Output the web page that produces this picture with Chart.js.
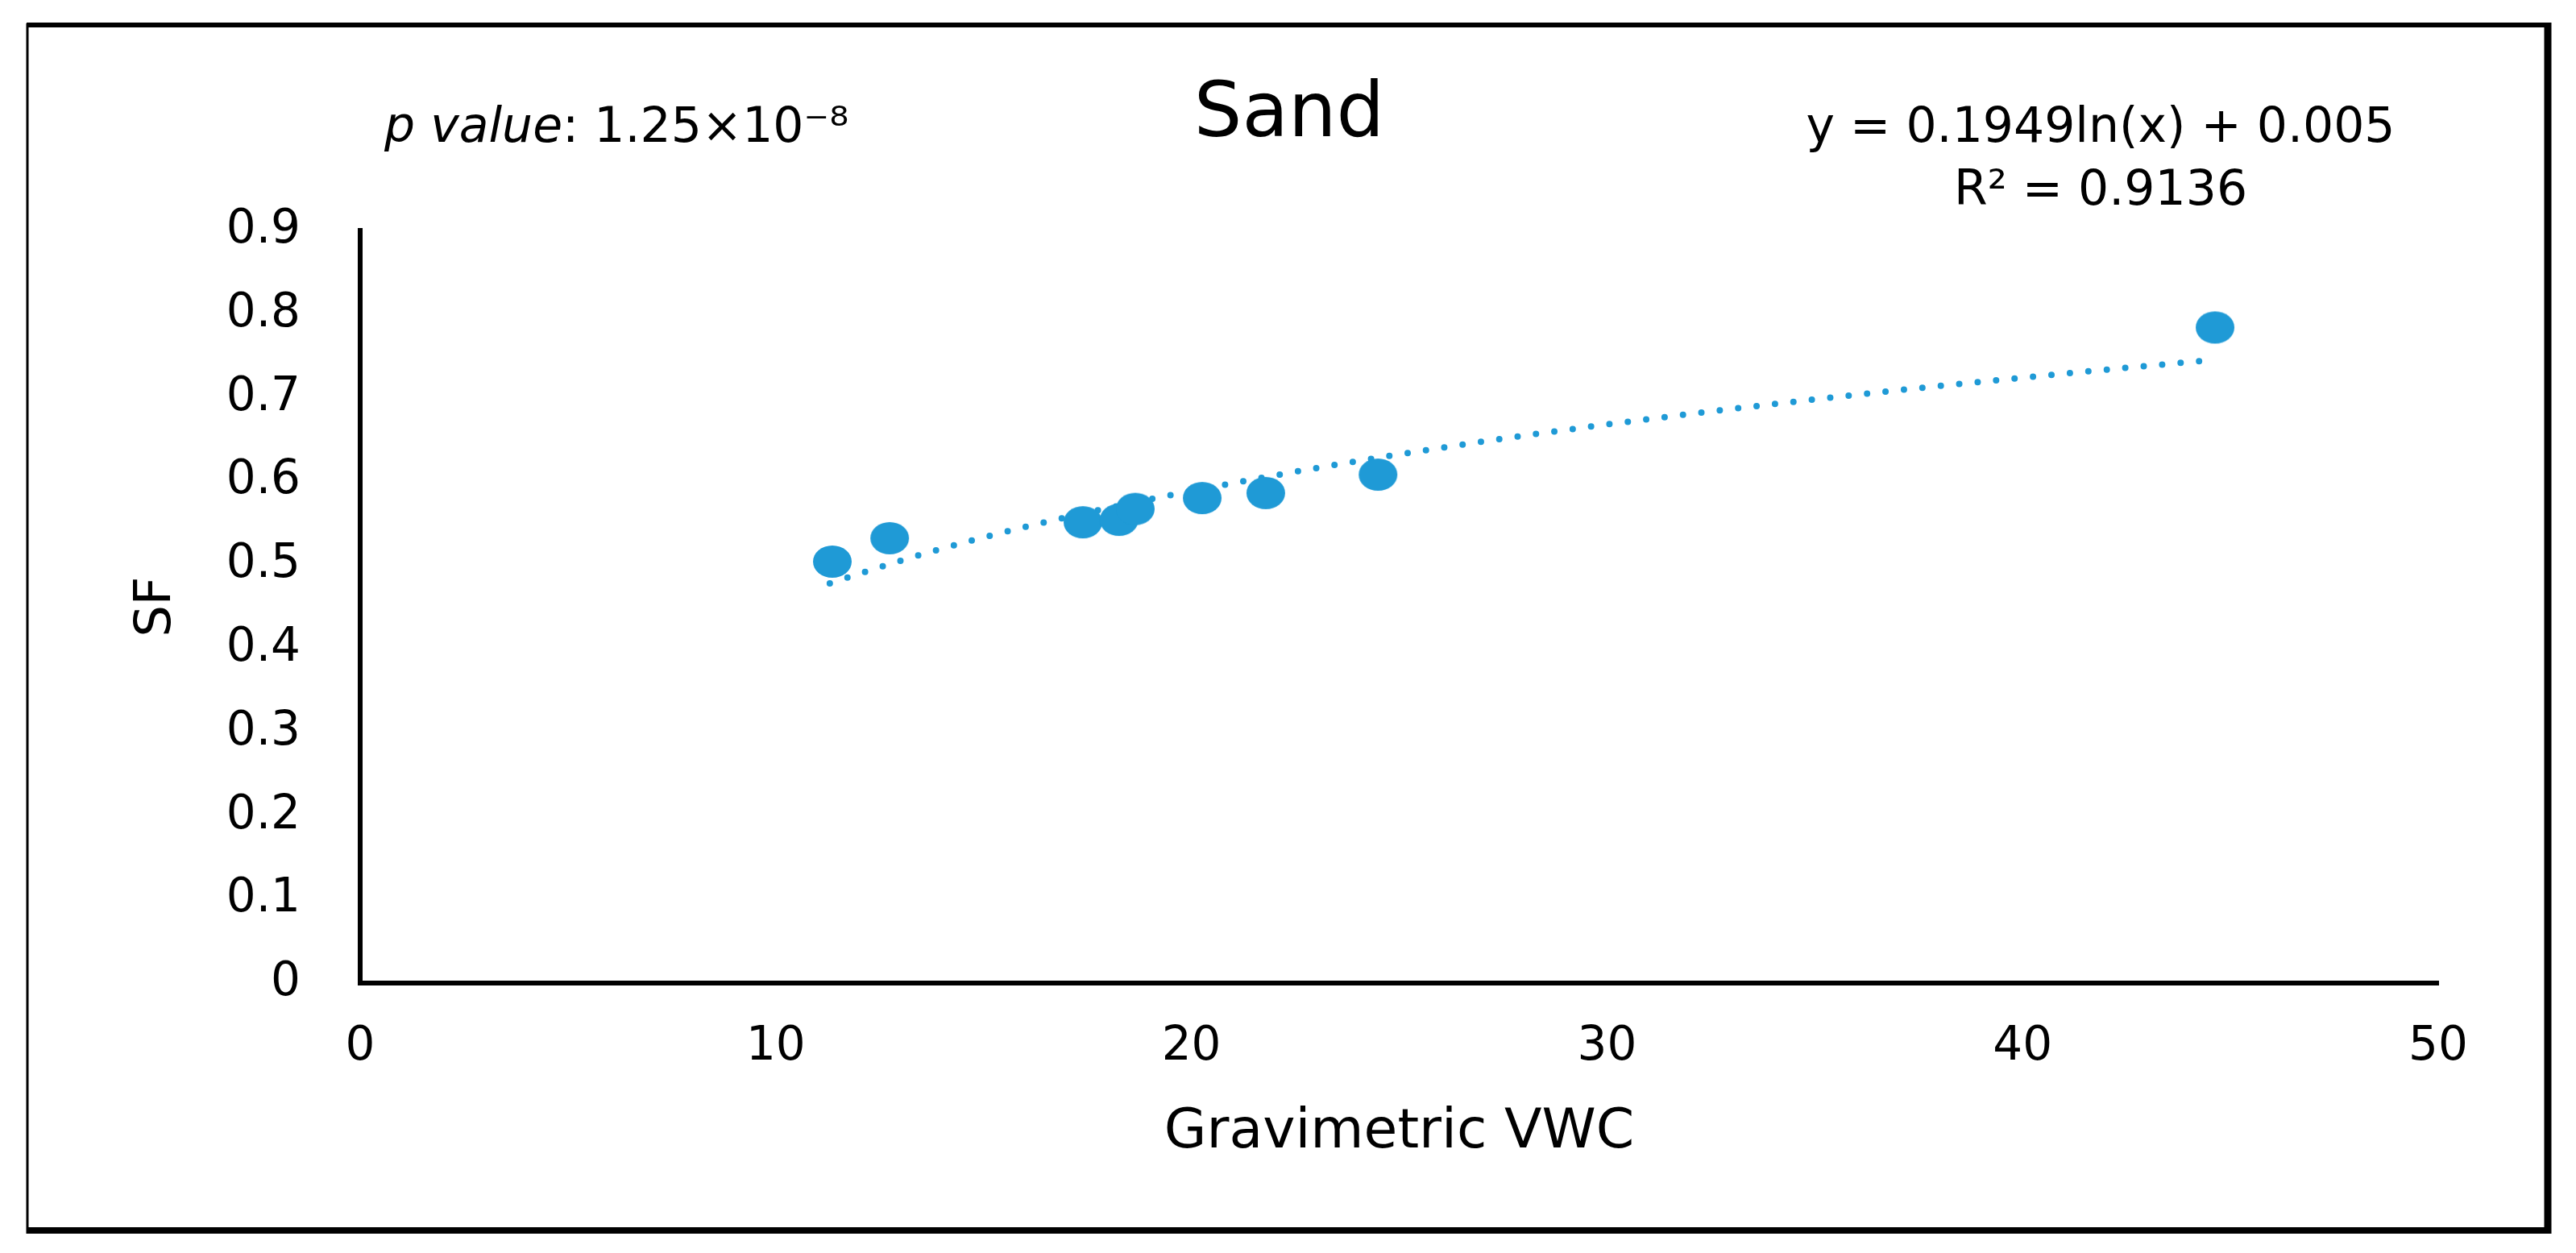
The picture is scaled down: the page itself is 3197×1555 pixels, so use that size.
<!DOCTYPE html>
<html>
<head>
<meta charset="utf-8">
<title>Sand</title>
<script src="https://cdn.jsdelivr.net/npm/chart.js@4.4.1/dist/chart.umd.min.js"></script>
<style>
  html, body { margin: 0; padding: 0; background: #ffffff; }
  #wrap { width: 3197px; height: 1555px; position: relative; }
</style>
</head>
<body>
<div id="wrap"><canvas id="myChart"></canvas></div>
<script>
// measured points (Gravimetric VWC vs SF)
const vwc = [11.36, 12.74, 17.39, 18.26, 18.65, 20.26, 21.79, 24.49, 44.63];
const sf = [0.504, 0.532, 0.551, 0.554, 0.567, 0.580, 0.586, 0.608, 0.784];

// dotted log trendline
const trendX = [11.3, 13, 15, 18, 22, 26, 30, 35, 40, 44.3];
const trendY = [0.478, 0.505, 0.533, 0.568, 0.607, 0.640, 0.668, 0.698, 0.724, 0.744];

const xTicks = [0, 10, 20, 30, 40, 50];
const yTicks = [0, 0.1, 0.2, 0.3, 0.4, 0.5, 0.6, 0.7, 0.8, 0.9];

const titleText = "Sand";
const xTitle = "Gravimetric VWC";
const yTitle = "SF";
const pLabel = "p value";
const pText = ": 1.25×10⁻⁸";
const eqLine1 = "y = 0.1949ln(x) + 0.005";
const eqLine2 = "R² = 0.9136";

const blue = "#1f9ad6";
const fontName = "'DejaVu Sans', sans-serif";

// excel style oval marker
const marker = document.createElement("canvas");
marker.width = 50;
marker.height = 42;
const mctx = marker.getContext("2d");
mctx.fillStyle = blue;
mctx.beginPath();
mctx.ellipse(25, 21, 24, 20, 0, 0, Math.PI * 2);
mctx.fill();

const pointData = vwc.map((v, i) => ({ x: v, y: sf[i] }));
const trendData = trendX.map((v, i) => ({ x: v, y: trendY[i] }));

const extras = {
    id: "extras",
    afterDraw(chart) {
        const ctx = chart.ctx;
        ctx.save();
        ctx.fillStyle = "#000";
        ctx.textBaseline = "middle";

        // chart title
        ctx.textAlign = "center";
        ctx.font = "94px " + fontName;
        ctx.fillText(titleText, 1600, 145);

        // p value, left
        ctx.textAlign = "left";
        ctx.font = "italic 60px " + fontName;
        ctx.fillText(pLabel, 477, 160);
        const w = ctx.measureText(pLabel).width;
        ctx.font = "60px " + fontName;
        ctx.fillText(pText, 477 + w, 160);

        // trendline equation, right
        ctx.textAlign = "center";
        ctx.fillText(eqLine1, 2607, 160);
        ctx.fillText(eqLine2, 2607, 238);

        // outer frame
        ctx.strokeStyle = "#000";
        ctx.lineWidth = 3;
        ctx.beginPath(); ctx.moveTo(34, 29); ctx.lineTo(34, 1531); ctx.stroke();
        ctx.lineWidth = 6;
        ctx.beginPath(); ctx.moveTo(33, 31); ctx.lineTo(3166, 31); ctx.stroke();
        ctx.lineWidth = 8;
        ctx.beginPath(); ctx.moveTo(33, 1527); ctx.lineTo(3166, 1527); ctx.stroke();
        ctx.lineWidth = 9;
        ctx.beginPath(); ctx.moveTo(3162, 28); ctx.lineTo(3162, 1531); ctx.stroke();
        ctx.restore();
    }
};

const ctx = document.getElementById("myChart").getContext("2d");

const config = {
    type: "scatter",
    data: {
        datasets: [{
            label: "SF",
            data: pointData,
            pointStyle: marker,
            order: 1
        }, {
            label: "Log trend",
            data: trendData,
            showLine: true,
            pointRadius: 0,
            borderColor: blue,
            borderWidth: 8,
            borderDash: [0, 23],
            borderCapStyle: "round",
            cubicInterpolationMode: "monotone",
            order: 2
        }]
    },
    options: {
        responsive: false,
        animation: false,
        devicePixelRatio: 1,
        layout: { padding: { left: 0, right: 171, top: 286, bottom: 0 } },
        plugins: {
            legend: { display: false },
            tooltip: { enabled: false },
            title: { display: false }
        },
        scales: {
            x: {
                type: "linear",
                min: 0,
                max: 50,
                afterBuildTicks: (s) => { s.ticks = xTicks.map(v => ({ value: v })); },
                afterFit: (s) => { s.height = 335; },
                grid: { display: false, drawTicks: false },
                border: { display: true, color: "#000", width: 6 },
                ticks: {
                    color: "#000",
                    padding: 45,
                    font: { family: fontName, size: 58 }
                },
                title: {
                    display: true,
                    text: xTitle,
                    color: "#000",
                    font: { family: fontName, size: 68 },
                    padding: { top: 0, bottom: 108 }
                }
            },
            y: {
                type: "linear",
                min: 0,
                max: 0.9,
                afterBuildTicks: (s) => { s.ticks = yTicks.map(v => ({ value: v })); },
                afterFit: (s) => { s.width = 447; },
                grid: { display: false, drawTicks: false },
                border: { display: true, color: "#000", width: 6 },
                ticks: {
                    color: "#000",
                    padding: 74,
                    font: { family: fontName, size: 58 },
                    callback: (v) => String(v)
                },
                title: {
                    display: true,
                    text: yTitle,
                    color: "#000",
                    font: { family: fontName, size: 62 },
                    padding: { top: 158, bottom: 0 }
                }
            }
        }
    },
    plugins: [extras]
};

const canvas = document.getElementById("myChart");
canvas.width = 3197;
canvas.height = 1555;
canvas.style.width = "3197px";
canvas.style.height = "1555px";

var myChart = new Chart(ctx, config);
</script>
</body>
</html>
